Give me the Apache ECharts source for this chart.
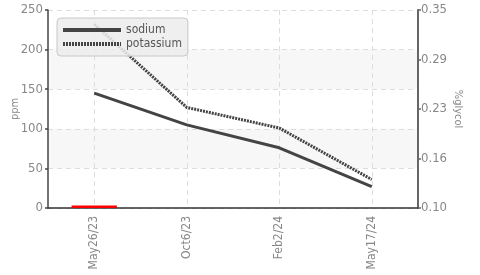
<!DOCTYPE html>
<html><head><meta charset="utf-8">
<script src="https://cdn.jsdelivr.net/npm/echarts@6/dist/echarts.min.js"></script>
<style>html,body{margin:0;padding:0;background:#fff}#c{width:480px;height:275px}</style>
</head><body><div id="c"></div>
<script>
const categories = ['May26/23', 'Oct6/23', 'Feb2/24', 'May17/24'];
const sodium = [145, 105, 76, 27];
const potassium = [232, 127, 101, 36];
const marker = [3, null, null, null];
const leftTicks = [0, 250, 50];
const rightTickLabels = ['0.10', '0.16', '0.23', '0.29', '0.35'];

const FONT = '"DejaVu Sans Condensed", "Liberation Sans", sans-serif';
const chart = echarts.init(document.getElementById('c'), null, {renderer: 'canvas'});
chart.setOption({
  animation: false,
  backgroundColor: '#fff',
  textStyle: {fontFamily: FONT},
  grid: {left: 48, right: 62, top: 10, bottom: 67, containLabel: false, outerBoundsMode: 'none'},
  legend: {
    left: 57, top: 18, orient: 'vertical',
    padding: [6, 6, 6, 4], itemGap: 2, itemWidth: 58, itemHeight: 14,
    backgroundColor: 'rgba(236,236,236,0.85)', borderColor: '#c8c8c8', borderWidth: 1, borderRadius: 4,
    itemStyle: {opacity: 0},
    lineStyle: {width: 4},
    textStyle: {color: '#555', fontSize: 12, fontFamily: FONT},
    data: ['sodium', 'potassium']
  },
  xAxis: {
    type: 'category', data: categories, boundaryGap: true,
    axisLine: {lineStyle: {color: '#333', width: 1.5}},
    axisTick: {alignWithLabel: true, length: 3, lineStyle: {color: '#333', width: 1.5}},
    axisLabel: {rotate: 90, color: '#888', fontSize: 12, fontFamily: FONT, margin: 8},
    splitLine: {show: true, alignWithLabel: true, lineStyle: {color: '#ddd', type: [5, 4], width: 1}}
  },
  yAxis: [{
    type: 'value', min: leftTicks[0], max: leftTicks[1], interval: leftTicks[2],
    name: 'ppm', nameLocation: 'middle', nameGap: 27, nameRotate: 90, nameMoveOverlap: false,
    nameTextStyle: {color: '#888', fontSize: 11, fontFamily: FONT},
    axisLine: {show: true, lineStyle: {color: '#444', width: 1.5}},
    axisTick: {show: true, length: 3, lineStyle: {color: '#444', width: 1.5}},
    axisLabel: {color: '#888', fontSize: 13, fontFamily: FONT, margin: 5},
    splitLine: {show: true, lineStyle: {color: '#ddd', type: [5, 4], width: 1}},
    splitArea: {show: true, areaStyle: {color: ['rgba(255,255,255,0)', '#f7f7f7']}}
  }, {
    type: 'value', min: 0, max: rightTickLabels.length - 1, interval: 1, position: 'right',
    name: '%glycol', nameLocation: 'middle', nameGap: 34, nameRotate: -90, nameMoveOverlap: false,
    nameTextStyle: {color: '#888', fontSize: 11, fontFamily: FONT},
    axisLine: {show: true, lineStyle: {color: '#666', width: 2}},
    axisTick: {show: true, length: 3, lineStyle: {color: '#666', width: 1.5}},
    axisLabel: {color: '#888', fontSize: 13, fontFamily: FONT, margin: 3, formatter: v => rightTickLabels[v]},
    splitLine: {show: false}
  }],
  series: [{
    name: 'marker', type: 'bar', data: marker, barWidth: '49%', itemStyle: {color: '#ff0000'}, z: 5
  }, {
    name: 'sodium', type: 'line', data: sodium, symbol: 'none',
    lineStyle: {color: '#444', width: 3}, itemStyle: {color: '#444'}
  }, {
    name: 'potassium', type: 'line', data: potassium, symbol: 'none',
    lineStyle: {color: '#444', width: 3, type: [2, 1]}, itemStyle: {color: '#444'}
  }]
});
</script></body></html>
